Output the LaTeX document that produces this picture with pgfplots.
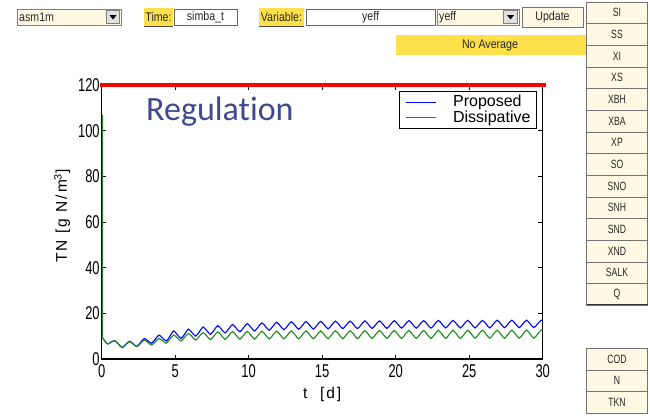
\documentclass[border=0pt]{standalone}
\usepackage{fontspec}
\setmainfont{Liberation Sans}
\newfontfamily\narrowfont[FakeStretch=0.7]{Liberation Sans}
\newfontfamily\btnfam[FakeStretch=0.72]{Liberation Sans}
\newfontfamily\guifam[FakeStretch=0.85]{Liberation Sans}
\newfontfamily\spacedfont[LetterSpace=13]{Liberation Sans}
\newfontfamily\regfont[Ligatures=NoCommon]{Carlito}
\usepackage{pgfplots}
\pgfplotsset{compat=1.18}
\definecolor{guicream}{RGB}{255,248,226}
\definecolor{guiyellow}{RGB}{255,224,74}
\definecolor{regcol}{RGB}{62,74,140}
\definecolor{mblue}{RGB}{0,0,255}
\definecolor{mgreen}{RGB}{25,140,25}
\newcommand\tickfont{\narrowfont\fontsize{18.5}{20}\selectfont}
\newcommand\labfont{\spacedfont\fontsize{15.5}{17}\selectfont}
\newcommand\legfont{\fontsize{16}{18}\selectfont}

\begin{document}
\begin{tikzpicture}
\begin{scope}[x=1pt,y=-1pt]
  \useasboundingbox (0,0) rectangle (650,418);
  \fill[white] (0,0) rectangle (650,418);
  \tikzset{
    btn/.style={draw=black!55, fill=guicream, minimum width=61pt, minimum height=21.65pt,
      inner sep=0pt, font=\btnfam\fontsize{12}{12}\selectfont, text=black!85},
    gui/.style={font=\guifam\fontsize{12.5}{13}\selectfont, text=black!85, inner sep=0pt},
  }
  % top bar
  \draw[black!50, fill=guicream] (16.7,9) rectangle (121,25);
  \draw[black!50, fill=black!12] (106.5,10.5) rectangle (119.5,23.5);
  \fill[black] (109.5,15) -- (116.5,15) -- (113,19.5) -- cycle;
  \node[gui, anchor=west] at (19,17) {asm1m};
  \fill[guiyellow] (144,8) rectangle (173,26);
  \draw[black!70, line width=1pt] (144,26) -- (173,26);
  \node[gui] at (158.5,17) {Time:};
  \draw[black!60, fill=white] (174,9) rectangle (237,25);
  \node[gui] at (205.5,17) {simba\_t};
  \fill[guiyellow] (259,8) rectangle (304,26);
  \draw[black!70, line width=1pt] (259,26) -- (304,26);
  \node[gui] at (281.5,17) {Variable:};
  \draw[black!60, fill=white] (306,9) rectangle (435,25);
  \node[gui] at (370.5,17) {yeff};
  \draw[black!50, fill=guicream] (437,9) rectangle (519,25);
  \draw[black!50, fill=black!12] (503.5,10.5) rectangle (517.5,23.5);
  \fill[black] (507,15) -- (514,15) -- (510.5,19.5) -- cycle;
  \node[gui, anchor=west] at (439,17) {yeff};
  \node[btn, minimum width=61pt, minimum height=20pt] at (552.5,17.5) {\guifam\fontsize{12.5}{13}\selectfont Update};
  \fill[guiyellow] (396,35) rectangle (586,55);
  \node[gui] at (490,45) {No Average};
  % variable buttons
  \foreach \lbl [count=\i from 0] in {SI,SS,XI,XS,XBH,XBA,XP,SO,SNO,SNH,SND,XND,SALK,Q}
    \node[btn] at (617, {12.8+21.65*\i}) {\lbl};
  \draw[black!80, line width=1pt] (586.5,304.2) -- (647.5,304.2);
  \foreach \lbl [count=\i from 0] in {COD,N,TKN}
    \node[btn] at (617, {359+21.65*\i}) {\lbl};
  % title inside the plot
  \node[anchor=base west, text=regcol, font=\regfont\fontsize{34}{36}\selectfont, inner sep=0pt] at (146,120) {Regulation};
\end{scope}

\begin{axis}[
  at={(101.7pt,-359pt)}, anchor=south west,
  scale only axis, width=441pt, height=274pt,
  xmin=0, xmax=30, ymin=0, ymax=120,
  xtick={0,5,...,30}, ytick={0,20,...,120},
  tick align=inside, major tick length=4.5pt,
  axis line style={black, line width=1.1pt},
  tick style={black, line width=0.8pt},
  /pgf/number format/assume math mode=true,
  ticklabel style={font=\tickfont},
  xticklabel style={yshift=-2pt},
  yticklabel style={xshift=1.5pt},
  xlabel={t\ \ [d]},
  ylabel={TN [g N/m\textsuperscript{3}]},
  label style={font=\labfont},
  xlabel style={at={(axis description cs:0.5,-0.131)}, anchor=center},
  ylabel style={at={(axis description cs:-0.09,0.522)}, anchor=center},
  clip=false,
  legend cell align=left,
  legend image code/.code={\draw[#1] (0pt,0pt) -- (30pt,0pt);},
  legend style={at={(1,1)}, anchor=north east, xshift=-5.4pt, yshift=-6pt,
    draw=black, line width=1pt, fill=white, font=\legfont,
    inner xsep=6pt, inner ysep=3.5pt, row sep=0pt,
    nodes={inner sep=0.3pt, text height=11.5pt, text depth=3.1pt},
    /tikz/every odd column/.append style={column sep=16pt}},
]
% effluent limit line
\addplot[red, line width=3.5pt, forget plot] coordinates {(-0.1,120) (30.2,120)};
% Proposed
\addplot[mblue, line width=1.1pt, smooth, tension=0.45] coordinates {
(0,9.8) (0.2,8.0) (0.4,6.6) (0.65,7.4) (0.9,8.0) (1.15,6.5)
(1.4,5.0) (1.65,6.5) (1.9,7.8) (2.15,6.6)
(2.4,5.5) (2.65,7.3) (2.9,9.0) (3.15,7.9)
(3.4,6.9) (3.65,8.7) (3.9,10.5) (4.15,9.2)
(4.4,7.9) (4.65,10.1) (4.9,12.3) (5.15,10.6)
(5.4,9.0) (5.65,11.0) (5.9,13.1) (6.15,11.5)
(6.4,10.0) (6.65,12.0) (6.9,14.0) (7.15,12.4)
(7.4,10.8) (7.65,12.7) (7.9,14.6) (8.15,13.0)
(8.4,11.4) (8.65,13.3) (8.9,15.1) (9.15,13.5)
(9.4,11.9) (9.65,13.7) (9.9,15.5) (10.15,13.9)
(10.4,12.3) (10.65,14.1) (10.9,15.8) (11.15,14.2)
(11.4,12.6) (11.65,14.4) (11.9,16.1) (12.15,14.5)
(12.4,12.8) (12.65,14.6) (12.9,16.3) (13.15,14.7)
(13.4,13.0) (13.65,14.7) (13.9,16.4) (14.15,14.8)
(14.4,13.1) (14.65,14.8) (14.9,16.5) (15.15,14.9)
(15.4,13.2) (15.65,14.9) (15.9,16.6) (16.15,15.0)
(16.4,13.3) (16.65,15.0) (16.9,16.6) (17.15,15.0)
(17.4,13.3) (17.65,15.0) (17.9,16.7) (18.15,15.1)
(18.4,13.4) (18.65,15.1) (18.9,16.7) (19.15,15.1)
(19.4,13.4) (19.65,15.1) (19.9,16.8) (20.15,15.2)
(20.4,13.5) (20.65,15.2) (20.9,16.8) (21.15,15.2)
(21.4,13.5) (21.65,15.2) (21.9,16.8) (22.15,15.2)
(22.4,13.5) (22.65,15.2) (22.9,16.9) (23.15,15.3)
(23.4,13.6) (23.65,15.3) (23.9,16.9) (24.15,15.3)
(24.4,13.6) (24.65,15.3) (24.9,16.9) (25.15,15.3)
(25.4,13.6) (25.65,15.3) (25.9,16.9) (26.15,15.3)
(26.4,13.6) (26.65,15.3) (26.9,17.0) (27.15,15.4)
(27.4,13.7) (27.65,15.4) (27.9,17.0) (28.15,15.4)
(28.4,13.7) (28.65,15.4) (28.9,17.0) (29.15,15.4)
(29.4,13.7) (29.65,15.4) (29.9,17.0) (30,16.9)
};
% Dissipative
\addplot[mgreen, line width=1.1pt, smooth, tension=0.45] coordinates {
(0,9.8) (0.2,8.0) (0.4,6.6) (0.65,7.4) (0.9,8.0) (1.15,6.5)
(1.4,5.0) (1.65,6.4) (1.9,7.6) (2.15,6.5)
(2.4,5.4) (2.65,6.9) (2.9,8.3) (3.15,7.2)
(3.4,6.1) (3.65,7.6) (3.9,9.0) (4.15,8.0)
(4.4,6.9) (4.65,8.8) (4.9,10.5) (5.15,9.2)
(5.4,7.9) (5.65,9.6) (5.9,11.2) (6.15,9.8)
(6.4,8.3) (6.65,10.0) (6.9,11.6) (7.15,10.1)
(7.4,8.5) (7.65,10.2) (7.9,11.9) (8.15,10.3)
(8.4,8.6) (8.65,10.3) (8.9,12.0) (9.15,10.4)
(9.4,8.7) (9.65,10.4) (9.9,12.1) (10.15,10.4)
(10.4,8.7) (10.65,10.5) (10.9,12.2) (11.15,10.5)
(11.4,8.8) (11.65,10.5) (11.9,12.2) (12.15,10.5)
(12.4,8.8) (12.65,10.6) (12.9,12.3) (13.15,10.6)
(13.4,8.8) (13.65,10.6) (13.9,12.3) (14.15,10.6)
(14.4,8.9) (14.65,10.6) (14.9,12.3) (15.15,10.6)
(15.4,8.9) (15.65,10.7) (15.9,12.4) (16.15,10.7)
(16.4,8.9) (16.65,10.7) (16.9,12.4) (17.15,10.7)
(17.4,8.9) (17.65,10.7) (17.9,12.4) (18.15,10.7)
(18.4,9.0) (18.65,10.8) (18.9,12.5) (19.15,10.8)
(19.4,9.0) (19.65,10.8) (19.9,12.5) (20.15,10.8)
(20.4,9.0) (20.65,10.8) (20.9,12.5) (21.15,10.8)
(21.4,9.0) (21.65,10.8) (21.9,12.5) (22.15,10.8)
(22.4,9.0) (22.65,10.8) (22.9,12.6) (23.15,10.8)
(23.4,9.0) (23.65,10.8) (23.9,12.6) (24.15,10.8)
(24.4,9.0) (24.65,10.8) (24.9,12.6) (25.15,10.9)
(25.4,9.1) (25.65,10.9) (25.9,12.6) (26.15,10.9)
(26.4,9.1) (26.65,10.9) (26.9,12.6) (27.15,10.9)
(27.4,9.1) (27.65,10.9) (27.9,12.6) (28.15,10.9)
(28.4,9.1) (28.65,10.9) (28.9,12.7) (29.15,10.9)
(29.4,9.1) (29.65,10.9) (29.9,12.7) (30,12.6)
};
% initial value of the dissipative run
\addplot[mgreen, line width=1.1pt, forget plot] coordinates {(0.07,107) (0.07,9.8)};
\legend{Proposed, Dissipative}
\end{axis}
\end{tikzpicture}
\end{document}
